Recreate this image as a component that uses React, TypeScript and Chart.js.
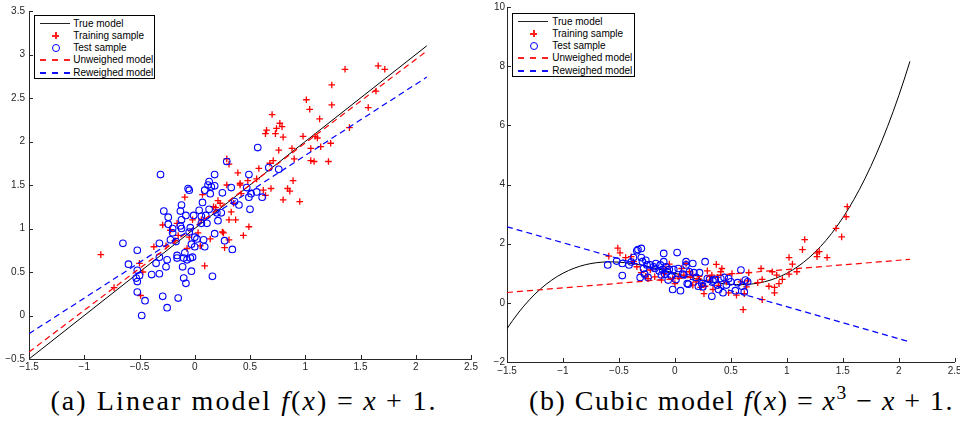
import React, { useEffect, useRef } from 'react';
import { Chart, registerables } from 'chart.js';

Chart.register(...registerables);

// ---------- tick values / labels ----------
const xTickValues = [-1.5, -1, -0.5, 0, 0.5, 1, 1.5, 2, 2.5];
const xTickLabels = ['−1.5', '−1', '−0.5', '0', '0.5', '1', '1.5', '2', '2.5'];
const linYTickValues = [-0.5, 0, 0.5, 1, 1.5, 2, 2.5, 3, 3.5];
const linYTickLabels = ['−0.5', '0', '0.5', '1', '1.5', '2', '2.5', '3', '3.5'];
const cubYTickValues = [-2, 0, 2, 4, 6, 8, 10];
const cubYTickLabels = ['−2', '0', '2', '4', '6', '8', '10'];

const legendLabels = ['True model', 'Training sample', 'Test sample', 'Unweighed model', 'Reweighed model'];

// ---------- (a) linear model ----------
const linTrueModel = [[-1.5, -0.5], [2.1, 3.1]];
const linUnweighed = [[-1.5, -0.42], [2.1, 3.04]];
const linReweighed = [[-1.5, -0.21], [2.1, 2.74]];

const linTraining = [
  [-0.85, 0.70], [-0.73, 0.32], [-0.50, 0.60], [-0.47, 0.50], [-0.49, 0.23], [-0.37, 0.79],
  [-0.26, 0.80], [-0.29, 1.04], [-0.22, 0.98], [-0.16, 1.06], [-0.15, 0.92], [-0.18, 0.86],
  [-0.09, 1.36], [-0.07, 0.77], [-0.05, 0.90], [-0.02, 1.10], [0.03, 0.95], [0.05, 0.80],
  [0.09, 0.57], [0.06, 1.10], [0.07, 1.39], [0.14, 0.88], [0.17, 1.25], [0.19, 1.24],
  [0.21, 1.32], [0.23, 1.29], [0.25, 0.96], [0.26, 0.95], [0.27, 0.78], [0.29, 1.80],
  [0.31, 1.74], [0.29, 1.50], [0.31, 1.10], [0.31, 0.87], [0.33, 1.19], [0.35, 1.29],
  [0.39, 1.64], [0.41, 1.52], [0.37, 1.10], [0.44, 0.92], [0.49, 1.02], [0.48, 1.55],
  [0.42, 1.40], [0.41, 1.50], [0.56, 1.57], [0.58, 1.69], [0.62, 1.44], [0.64, 2.09],
  [0.65, 2.13], [0.64, 1.38], [0.68, 1.75], [0.69, 1.46], [0.70, 2.31], [0.71, 1.78],
  [0.73, 2.09], [0.74, 2.15], [0.76, 1.90], [0.77, 2.21], [0.79, 2.17], [0.80, 2.05],
  [0.80, 1.33], [0.84, 1.46], [0.86, 1.43], [0.89, 1.55], [0.88, 1.92], [0.90, 1.80],
  [0.95, 1.31], [0.98, 2.06], [1.01, 2.48], [1.04, 2.37], [1.05, 1.92], [1.05, 1.78],
  [1.08, 1.77], [1.09, 2.06], [1.11, 2.04], [1.13, 2.26], [1.14, 1.94], [1.21, 1.77],
  [1.23, 1.98], [1.24, 2.42], [1.24, 2.65], [1.36, 2.83], [1.40, 2.16], [1.57, 2.39],
  [1.64, 2.58], [1.66, 2.87], [1.72, 2.83],
];

const linTest = [
  [-0.65, 0.83], [-0.52, 0.75], [-0.60, 0.59], [-0.52, 0.52], [-0.53, 0.43], [-0.52, 0.39],
  [-0.50, 0.46], [-0.52, 0.27], [-0.45, 0.17], [-0.48, 0.00], [-0.39, 0.47], [-0.35, 0.60],
  [-0.32, 0.48], [-0.32, 0.67], [-0.32, 0.83], [-0.31, 1.62], [-0.29, 0.22], [-0.28, 1.20],
  [-0.26, 0.56], [-0.25, 0.64], [-0.25, 0.09], [-0.24, 1.13], [-0.24, 1.05], [-0.22, 0.87],
  [-0.20, 0.95], [-0.20, 1.00], [-0.17, 0.85], [-0.16, 0.69], [-0.16, 0.66], [-0.15, 0.20],
  [-0.13, 1.03], [-0.13, 1.20], [-0.12, 1.10], [-0.12, 1.00], [-0.12, 1.27], [-0.11, 0.56],
  [-0.10, 0.43], [-0.10, 0.66], [-0.09, 0.72], [-0.08, 0.37], [-0.08, 1.15], [-0.07, 0.64],
  [-0.06, 1.46], [-0.05, 1.44], [-0.05, 0.96], [-0.04, 1.01], [-0.04, 0.66], [-0.03, 0.82],
  [-0.03, 0.51], [-0.02, 0.67], [-0.01, 1.15], [0.00, 0.79], [0.00, 0.90], [0.02, 0.88],
  [0.04, 1.21], [0.06, 1.14], [0.06, 1.06], [0.07, 1.30], [0.08, 0.87], [0.09, 1.44],
  [0.09, 0.79], [0.10, 1.15], [0.11, 1.06], [0.12, 1.50], [0.13, 1.54], [0.13, 1.22],
  [0.14, 1.40], [0.15, 1.48], [0.16, 0.45], [0.18, 1.62], [0.18, 1.49], [0.18, 0.94],
  [0.20, 1.18], [0.21, 1.09], [0.24, 1.18], [0.25, 1.41], [0.27, 0.86], [0.29, 1.77],
  [0.33, 1.47], [0.34, 0.76], [0.36, 1.31], [0.40, 1.27], [0.47, 1.47], [0.49, 1.62],
  [0.49, 1.36], [0.50, 1.22], [0.51, 1.40], [0.56, 1.42], [0.57, 1.93], [0.61, 1.36],
  [0.67, 1.70], [0.76, 1.68],
];

// ---------- (b) cubic model ----------
const cubicModel = (x: number) => x * x * x - x + 1;
const cubicSampleX = Array.from({ length: 73 }, (_, i) => -1.5 + i * 0.05);
const cubTrueModel = cubicSampleX.map((x) => [x, cubicModel(x)]);
const cubUnweighed = [[-1.5, 0.35], [2.1, 1.47]];
const cubReweighed = [[-1.5, 2.57], [2.1, -1.32]];

const cubTraining = [
  [-0.59, 1.58], [-0.51, 1.85], [-0.49, 1.69], [-0.44, 1.53], [-0.39, 1.56], [-0.37, 1.39],
  [-0.34, 1.22], [-0.30, 1.02], [-0.26, 0.90], [-0.22, 1.11], [-0.18, 0.88], [-0.12, 0.77],
  [-0.10, 0.99], [-0.08, 1.16], [-0.05, 1.31], [-0.02, 0.82], [0.00, 0.65], [0.03, 0.88],
  [0.06, 1.16], [0.08, 0.94], [0.10, 1.33], [0.13, 1.05], [0.14, 0.88], [0.16, 0.94],
  [0.19, 0.71], [0.21, 0.82], [0.23, 0.52], [0.25, 0.65], [0.26, 0.31], [0.27, 0.56],
  [0.29, 1.08], [0.31, 0.77], [0.33, 0.94], [0.34, 0.45], [0.37, 1.30], [0.39, 0.59],
  [0.41, 1.05], [0.42, 1.16], [0.46, 0.71], [0.48, 0.34], [0.51, 0.99], [0.55, 0.26],
  [0.59, 0.71], [0.61, -0.23], [0.62, 0.31], [0.64, 0.54], [0.65, 0.74], [0.66, 1.02],
  [0.74, 0.68], [0.77, 1.16], [0.78, 0.11], [0.78, 0.79], [0.84, 0.56], [0.87, 1.05],
  [0.89, 0.52], [0.89, 0.34], [0.91, 0.94], [0.93, 0.65], [0.96, 0.79], [1.02, 0.97],
  [1.02, 1.53], [1.05, 1.31], [1.09, 1.05], [1.14, 1.80], [1.16, 2.14], [1.27, 1.56],
  [1.29, 1.73], [1.27, 1.69], [1.36, 1.53], [1.44, 2.52], [1.49, 2.23], [1.53, 2.91],
  [1.54, 3.25], [-0.24, 0.82], [0.16, 0.60], [0.38, 0.86],
];

const cubTest = [
  [-0.60, 1.28], [-0.52, 1.41], [-0.47, 1.33], [-0.47, 0.92], [-0.41, 1.28], [-0.39, 1.38],
  [-0.37, 1.53], [-0.34, 1.76], [-0.33, 1.80], [-0.30, 1.84], [-0.30, 1.53], [-0.29, 1.39],
  [-0.28, 1.16], [-0.27, 0.97], [-0.31, 0.86], [-0.26, 1.44], [-0.25, 1.28], [-0.24, 0.86],
  [-0.22, 1.28], [-0.19, 1.22], [-0.18, 1.16], [-0.17, 1.33], [-0.14, 1.08], [-0.13, 1.28],
  [-0.12, 0.94], [-0.11, 1.13], [-0.10, 1.67], [-0.10, 1.39], [-0.09, 0.97], [-0.08, 1.22],
  [-0.07, 1.05], [-0.06, 0.77], [-0.05, 1.13], [-0.03, 0.90], [-0.02, 0.45], [-0.01, 1.13],
  [0.01, 0.79], [0.02, 1.70], [0.03, 1.16], [0.05, 0.41], [0.07, 0.97], [0.08, 0.94],
  [0.10, 1.28], [0.10, 1.39], [0.11, 0.65], [0.12, 0.63], [0.13, 1.05], [0.16, 1.33],
  [0.17, 1.02], [0.19, 0.86], [0.21, 0.56], [0.22, 1.02], [0.24, 0.65], [0.25, 0.54],
  [0.27, 1.39], [0.29, 0.82], [0.31, 0.79], [0.33, 0.22], [0.34, 0.74], [0.36, 0.79],
  [0.38, 0.60], [0.39, 0.45], [0.41, 0.82], [0.43, 0.34], [0.44, 0.86], [0.46, 0.60],
  [0.48, 0.82], [0.50, 0.71], [0.54, 0.41], [0.56, 0.68], [0.59, 1.11], [0.60, 0.56],
  [0.62, 0.37], [0.63, 0.77], [0.65, 0.71],
];

// ---------- styling ----------
const AXIS = '#262626';
const SANS = '"Liberation Sans", Arial, Helvetica, sans-serif';
const SERIF = '"Liberation Serif", "DejaVu Serif", "Noto Serif", serif';

const inwardTicks = {
  id: 'inwardTicks',
  afterDatasetsDraw(chart: any) {
    const { ctx, chartArea, scales } = chart;
    ctx.save();
    ctx.strokeStyle = AXIS;
    ctx.lineWidth = 1;
    ctx.beginPath();
    scales.x.ticks.forEach((t: any) => {
      const px = Math.round(scales.x.getPixelForValue(t.value)) + 0.5;
      ctx.moveTo(px, chartArea.bottom);
      ctx.lineTo(px, chartArea.bottom - 4);
    });
    scales.y.ticks.forEach((t: any) => {
      const py = Math.round(scales.y.getPixelForValue(t.value)) + 0.5;
      ctx.moveTo(chartArea.left, py);
      ctx.lineTo(chartArea.left + 4, py);
    });
    ctx.stroke();
    ctx.restore();
  },
};

const toXY = (pts: number[][]) => pts.map(([x, y]) => ({ x, y }));

function buildConfig(p: any): any {
  return {
    type: 'scatter',
    data: {
      datasets: [
        { label: legendLabels[0], data: toXY(p.truth), showLine: true, borderColor: '#000', borderWidth: 1, pointRadius: 0, order: 5 },
        { label: legendLabels[1], data: toXY(p.training), showLine: false, pointStyle: 'cross', pointRadius: 3.3, borderColor: '#ff0000', pointBorderColor: '#ff0000', pointBorderWidth: 1.3, order: 4 },
        { label: legendLabels[2], data: toXY(p.test), showLine: false, pointStyle: 'circle', pointRadius: 3.3, borderColor: '#0000ff', pointBorderColor: '#0000ff', pointBackgroundColor: 'rgba(0,0,0,0)', backgroundColor: 'rgba(0,0,0,0)', pointBorderWidth: 1.1, order: 3 },
        { label: legendLabels[3], data: toXY(p.unweighed), showLine: true, borderColor: '#ff0000', borderWidth: 1.2, borderDash: [6, 4], pointRadius: 0, order: 2 },
        { label: legendLabels[4], data: toXY(p.reweighed), showLine: true, borderColor: '#0000ff', borderWidth: 1.2, borderDash: [6, 4], pointRadius: 0, order: 1 },
      ],
    },
    options: {
      responsive: false,
      animation: false,
      events: [],
      layout: { padding: p.pad },
      plugins: { legend: { display: false }, tooltip: { enabled: false } },
      scales: {
        x: {
          type: 'linear',
          min: -1.5,
          max: 2.5,
          grid: { display: false, drawTicks: false },
          border: { display: true, color: AXIS, width: 1 },
          afterBuildTicks: (s: any) => { s.ticks = xTickValues.map((v) => ({ value: v })); },
          afterFit: (s: any) => { s.height = p.xHeight; s.paddingLeft = 0; s.paddingRight = 0; },
          ticks: {
            autoSkip: false,
            maxRotation: 0,
            padding: p.xPad,
            color: AXIS,
            font: { family: SANS, size: 10 },
            callback: (_v: any, i: number) => xTickLabels[i],
          },
        },
        y: {
          type: 'linear',
          min: p.yMin,
          max: p.yMax,
          grid: { display: false, drawTicks: false },
          border: { display: true, color: AXIS, width: 1 },
          afterBuildTicks: (s: any) => { s.ticks = p.yTicks.map((v: number) => ({ value: v })); },
          afterFit: (s: any) => { s.width = p.yWidth; s.paddingTop = 0; s.paddingBottom = 0; },
          ticks: {
            autoSkip: false,
            padding: p.yPad,
            color: AXIS,
            font: { family: SANS, size: 10 },
            callback: (_v: any, i: number) => p.yLabels[i],
          },
        },
      },
    },
    plugins: [inwardTicks],
  };
}

function ChartCanvas({ config, left }: { config: any; left: number }) {
  const ref = useRef<HTMLCanvasElement | null>(null);
  useEffect(() => {
    if (!ref.current) return;
    const chart = new Chart(ref.current, config);
    return () => chart.destroy();
  }, [config]);
  return (
    <canvas ref={ref} width={480} height={380}
      style={{ position: 'absolute', left, top: 0, width: 480, height: 380 }} />
  );
}

function Legend({ box, rowTop, sampleLeft, textLeft }: any) {
  const step = 12.25;
  const items: any[] = [];
  legendLabels.forEach((label, i) => {
    const cy = Math.round(rowTop + i * step);
    const sx = Math.round(sampleLeft);
    if (i === 0) {
      items.push(<div key={'s' + i} style={{ position: 'absolute', left: sx, top: cy, width: 30, height: 1, background: '#222' }} />);
    } else if (i === 1) {
      items.push(<div key={'h' + i} style={{ position: 'absolute', left: sx + 12, top: cy - 0.5, width: 7, height: 2, background: '#ff2020' }} />);
      items.push(<div key={'v' + i} style={{ position: 'absolute', left: sx + 14.5, top: cy - 3, width: 2, height: 7, background: '#ff2020' }} />);
    } else if (i === 2) {
      items.push(<div key={'c' + i} style={{ position: 'absolute', left: sx + 12, top: cy - 3, width: 8, height: 8, boxSizing: 'border-box', border: '1.3px solid #0000ff', borderRadius: '50%' }} />);
    } else {
      const col = i === 3 ? '#ff2020' : '#1010ff';
      [0, 12, 24].forEach((off) => {
        items.push(<div key={'d' + i + '_' + off} style={{ position: 'absolute', left: sx + off, top: cy - 0.5, width: 6, height: 2, background: col }} />);
      });
    }
    items.push(
      <div key={'t' + i} style={{ position: 'absolute', left: textLeft, top: cy - 5.5, height: 12, lineHeight: '12px', fontFamily: SANS, fontSize: 10, color: '#000', whiteSpace: 'nowrap' }}>{label}</div>
    );
  });
  return (
    <>
      <div style={{ position: 'absolute', left: box.left, top: box.top, width: box.width, height: box.height, boxSizing: 'border-box', border: '1px solid #000', background: '#fff' }} />
      {items}
    </>
  );
}

const op: React.CSSProperties = { margin: '0 0.3em' };

const linConfig = buildConfig({
  truth: linTrueModel, training: linTraining, test: linTest, unweighed: linUnweighed, reweighed: linReweighed,
  yMin: -0.5, yMax: 3.5, yTicks: linYTickValues, yLabels: linYTickLabels,
  pad: { left: 0, right: 9, top: 11, bottom: 0 }, yWidth: 29, xHeight: 21, yPad: 4, xPad: 2,
});

const cubConfig = buildConfig({
  truth: cubTrueModel, training: cubTraining, test: cubTest, unweighed: cubUnweighed, reweighed: cubReweighed,
  yMin: -2, yMax: 10, yTicks: cubYTickValues, yLabels: cubYTickLabels,
  pad: { left: 0, right: 4, top: 7, bottom: 0 }, yWidth: 27, xHeight: 18, yPad: 2, xPad: 3,
});

export default function App() {
  const captionBase: React.CSSProperties = {
    position: 'absolute', top: 387, transform: 'translateX(-50%)', whiteSpace: 'nowrap',
    fontFamily: SERIF, fontSize: 28, lineHeight: '28px', color: '#000',
  };
  const it: React.CSSProperties = { fontStyle: 'italic', fontFamily: SERIF };
  return (
    <div style={{ position: 'absolute', left: 0, top: 0, width: 960, height: 421, background: '#fff', overflow: 'hidden' }}>
      <ChartCanvas config={linConfig} left={0} />
      <ChartCanvas config={cubConfig} left={480} />
      <Legend box={{ left: 34, top: 15, width: 121, height: 64 }} rowTop={22.7} sampleLeft={40} textLeft={73.3} />
      <Legend box={{ left: 512, top: 12.7, width: 123, height: 64.6 }} rowTop={20.7} sampleLeft={518.3} textLeft={552.3} />
      <div style={{ ...captionBase, left: 244, letterSpacing: '2.1px' }}>
        (a) Linear model <span style={it}>f</span>(<span style={it}>x</span>)<span style={op}>=</span><span style={it}>x</span><span style={op}>+</span>1.
      </div>
      <div style={{ ...captionBase, left: 741.5, letterSpacing: '1.5px' }}>
        (b) Cubic model <span style={it}>f</span>(<span style={it}>x</span>)<span style={op}>=</span><span style={it}>x</span><span style={{ fontSize: '0.7em', position: 'relative', top: '-0.55em' }}>3</span><span style={op}>−</span><span style={it}>x</span><span style={op}>+</span>1.
      </div>
    </div>
  );
}
